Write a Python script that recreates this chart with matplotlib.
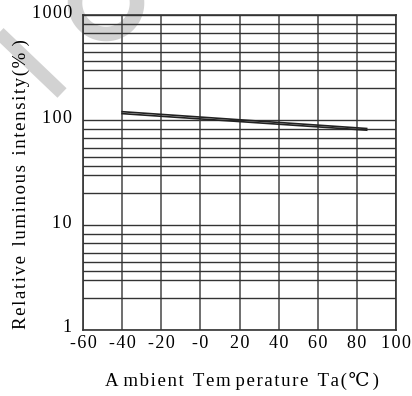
import numpy as np
import matplotlib
matplotlib.use("Agg")
from matplotlib import pyplot as plt
from matplotlib.lines import Line2D
import matplotlib.transforms as mtransforms

# curves: relative luminous intensity vs ambient temperature
temp = [-40, 85]
lum_upper = [120, 83]
lum_lower = [115, 80]

x_ticks = [-60, -40, -20, 0, 20, 40, 60, 80, 100]
x_labels = ['-60', '-40', '-20', '-0', '20', '40', '60', '80', '100']
y_ticks = [1, 10, 100, 1000]
y_labels = ['1', '10', '100', '1000']
# horizontal rulings inside each decade
decade_steps = [2, 3, 3.66, 4.48, 5.47, 6.69, 8.18]

FONT = ['Liberation Serif', 'DejaVu Serif']
SIZE = 13
LSIZE = 13.5
HS = '\u200a'


def spaced(s, gap=HS):
    return gap.join(s)


W, H = 412, 396
fig = plt.figure(figsize=(W / 100, H / 100), dpi=100)
ax = fig.add_axes([83 / W, 1 - 330 / H, 313 / W, 315 / H])
ax.patch.set_visible(False)


def px(x, y):
    return np.asarray(x) / W, 1 - np.asarray(y) / H


# grey background strokes
t = np.linspace(np.radians(-10), np.radians(195), 80)
ax_, ay_ = px(106 + 31 * np.cos(t), 3 + 31 * np.sin(t))
fig.add_artist(Line2D(ax_, ay_, transform=fig.transFigure, color='#d2d2d2',
                      lw=10.5, solid_capstyle='butt', zorder=-5))
dx, dy = px([-5, 62], [29, 93])
fig.add_artist(Line2D(dx, dy, transform=fig.transFigure, color='#d2d2d2',
                      lw=9.5, solid_capstyle='butt', zorder=-5))

ax.plot(temp, lum_upper, color='#222222', lw=1.2, zorder=3)
ax.plot(temp, lum_lower, color='#222222', lw=1.2, zorder=3)

ax.set_yscale('log')
ax.set_xlim(-60, 100)
ax.set_ylim(1, 1000)

ax.set_xticks(x_ticks)
ax.set_xticklabels([spaced(s) for s in x_labels], family=FONT, fontsize=SIZE)
ax.set_yticks(y_ticks)
ax.set_yticklabels([spaced(s) for s in y_labels], family=FONT, fontsize=SIZE)
minor = [d * s for d in [1, 10, 100] for s in decade_steps]
ax.set_yticks(minor, minor=True)
ax.yaxis.set_minor_formatter(matplotlib.ticker.NullFormatter())
ax.tick_params(axis='both', which='both', length=0)
ax.tick_params(axis='x', pad=3.5)
ax.tick_params(axis='y', pad=8)

shift = mtransforms.ScaledTranslation(0, 4 / 100, fig.dpi_scale_trans)
for lab in ax.get_yticklabels():
    lab.set_transform(lab.get_transform() + shift)

ax.grid(True, axis='x', color='#555555', lw=1.2)
ax.grid(True, axis='y', which='both', color='#333333', lw=1.0)
ax.set_axisbelow(True)
for sp in ax.spines.values():
    sp.set_color('#333333')
    sp.set_linewidth(1.2)

xl = ('A' + HS * 3 + spaced('mbient') + '  ' + spaced('Tem') + HS * 3
      + spaced('perature') + '  ' + spaced('Ta(') + HS + '\u2103' + HS * 2 + ')')
ax.set_xlabel(xl, family=FONT, fontsize=LSIZE, va='top')
ax.xaxis.set_label_coords(0.508, -0.133)
yl = spaced('Relative') + '  ' + spaced('luminous') + '  ' + spaced('intensity(%') + HS + ' )'
ax.set_ylabel(yl, family=FONT, fontsize=LSIZE, va='center')
ax.yaxis.set_label_coords(-0.198, 0.4635)

fig.savefig('out.png', dpi=100)
